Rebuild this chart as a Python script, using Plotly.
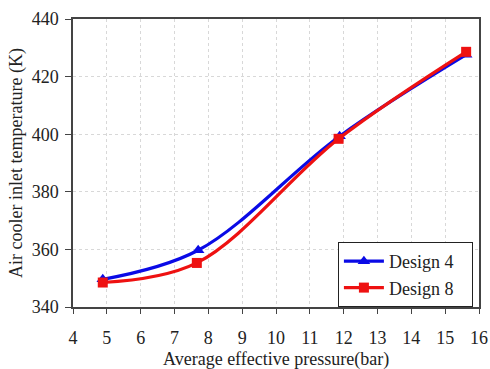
import plotly.graph_objects as go

x4 = [4.88, 7.7, 11.88, 15.62]
y4 = [349.6, 359.7, 399.3, 427.6]
x8 = [4.88, 7.66, 11.85, 15.62]
y8 = [348.5, 355.3, 398.4, 428.6]
names = ["Design 4", "Design 8"]
x_title = "Average effective pressure(bar)"
y_title = "Air cooler inlet temperature (K)"

font = "Liberation Serif"
pad = "\u00a0\u00a0\u00a0"

fig = go.Figure()
fig.add_trace(go.Scatter(x=x4, y=y4, name=names[0] + pad, mode="lines+markers",
                         line=dict(color="#0a0ae6", width=3.2, shape="spline", smoothing=1.0),
                         marker=dict(symbol="triangle-up", size=11, color="#0a0ae6")))
fig.add_trace(go.Scatter(x=x8, y=y8, name=names[1] + pad, mode="lines+markers",
                         line=dict(color="#ee1111", width=3.2, shape="spline", smoothing=1.0),
                         marker=dict(symbol="square", size=10, color="#ee1111")))

fig.update_layout(
    width=490, height=369,
    margin=dict(l=73, r=9, t=14, b=62),
    paper_bgcolor="white", plot_bgcolor="white",
    font=dict(family=font, size=18, color="#222"),
    showlegend=True,
    legend=dict(x=0.985, y=0.0, xanchor="right", yanchor="bottom",
                bgcolor="white", bordercolor="#222", borderwidth=1,
                font=dict(size=18, family=font), itemwidth=40, tracegroupgap=0),
    xaxis=dict(range=[4, 16], dtick=1, tick0=4, showgrid=True, automargin=False,
               gridcolor="#d8d8d8", griddash="dot", gridwidth=1,
               showline=True, linecolor="#444", linewidth=1.5, mirror=True,
               ticks="outside", ticklen=5, tickcolor="#444",
               ticklabelstandoff=9, ticklabeloverflow="allow",
               tickfont=dict(size=18, family=font),
               zeroline=False),
    yaxis=dict(range=[340, 440], dtick=20, showgrid=True, automargin=True,
               gridcolor="#d8d8d8", griddash="dot", gridwidth=1,
               showline=True, linecolor="#444", linewidth=1.5, mirror=True,
               ticks="outside", ticklen=6, tickcolor="#444",
               ticklabelstandoff=3,
               tickfont=dict(size=18, family=font),
               title=dict(text=y_title, font=dict(size=18, family=font), standoff=4),
               zeroline=False),
    annotations=[dict(text=x_title, xref="paper", yref="paper", x=0.5, y=-0.181,
                      xanchor="center", yanchor="middle", showarrow=False,
                      font=dict(size=18, family=font, color="#222"))],
)

fig.write_html("out.html")
